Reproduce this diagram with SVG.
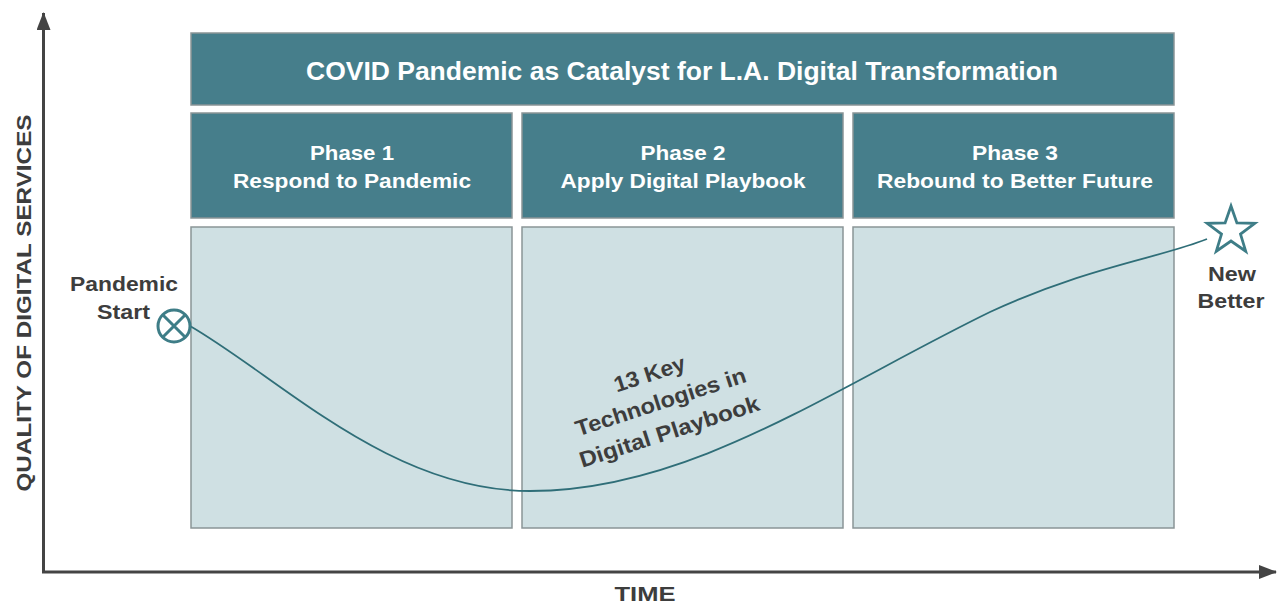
<svg xmlns="http://www.w3.org/2000/svg" width="1278" height="605" viewBox="0 0 1278 605">
<style>
.dark{fill:#467e8b;stroke:#8a9597;stroke-width:1.5}
.light{fill:#cfe0e3;stroke:#8a9597;stroke-width:1.5}
.wt{font-family:"Liberation Sans",Arial,sans-serif;font-weight:bold;fill:#ffffff;text-anchor:middle}
.lbl{font-family:"Liberation Sans",Arial,sans-serif;font-weight:bold;fill:#3d3d3d}
.axis{stroke:#444;stroke-width:3;fill:none}
.teal{stroke:#2f6e78;fill:none}
</style>
<defs>
<marker id="ah2" viewBox="0 0 18 14" refX="17" refY="7" markerWidth="18" markerHeight="14" markerUnits="userSpaceOnUse" orient="auto">
<path d="M0,0 L18,7 L0,14 z" fill="#444"/>
</marker>
</defs>
<g id="axes">
<path class="axis" d="M43.5,572 L43.5,13" marker-end="url(#ah2)"/>
<path class="axis" d="M42,572 L1276,572" marker-end="url(#ah2)"/>
<text class="lbl" font-size="21" text-anchor="middle" textLength="377" lengthAdjust="spacingAndGlyphs" transform="translate(31,303) rotate(-90)">QUALITY OF DIGITAL SERVICES</text>
<text class="lbl" font-size="21" text-anchor="middle" x="645" y="601" textLength="61" lengthAdjust="spacingAndGlyphs">TIME</text>
</g>
<g id="title">
<rect class="dark" x="191" y="33" width="983" height="72"/>
<text class="wt" x="682" y="80" font-size="25" textLength="752" lengthAdjust="spacingAndGlyphs">COVID Pandemic as Catalyst for L.A. Digital Transformation</text>
</g>
<g id="phase1">
<rect class="dark" x="191" y="113" width="321" height="105"/>
<text class="wt" x="352" y="160" font-size="21" textLength="84" lengthAdjust="spacingAndGlyphs">Phase 1</text>
<text class="wt" x="352" y="188" font-size="21" textLength="238" lengthAdjust="spacingAndGlyphs">Respond to Pandemic</text>
<rect class="light" x="191" y="227" width="321" height="301"/>
</g>
<g id="phase2">
<rect class="dark" x="522" y="113" width="321" height="105"/>
<text class="wt" x="683" y="160" font-size="21" textLength="85" lengthAdjust="spacingAndGlyphs">Phase 2</text>
<text class="wt" x="683" y="188" font-size="21" textLength="245" lengthAdjust="spacingAndGlyphs">Apply Digital Playbook</text>
<rect class="light" x="522" y="227" width="321" height="301"/>
</g>
<g id="phase3">
<rect class="dark" x="853" y="113" width="321" height="105"/>
<text class="wt" x="1015" y="160" font-size="21" textLength="86" lengthAdjust="spacingAndGlyphs">Phase 3</text>
<text class="wt" x="1015" y="188" font-size="21" textLength="276" lengthAdjust="spacingAndGlyphs">Rebound to Better Future</text>
<rect class="light" x="853" y="227" width="321" height="301"/>
</g>
<g id="connectors">
<path class="teal" stroke-width="1.8" d="M190,326 C280,378 390,491 530,491 C690,491 830,390 990,312 C1090,266 1160,258 1207,239"/>
</g>
<g id="start">
<circle cx="174" cy="326" r="16" fill="#ffffff" stroke="#3e7d87" stroke-width="3"/>
<path d="M162.7,314.7 L185.3,337.3 M185.3,314.7 L162.7,337.3" stroke="#3e7d87" stroke-width="3"/>
<text class="lbl" font-size="20" text-anchor="end" x="178" y="291" textLength="108" lengthAdjust="spacingAndGlyphs">Pandemic</text>
<text class="lbl" font-size="20" text-anchor="end" x="150" y="319" textLength="53" lengthAdjust="spacingAndGlyphs">Start</text>
</g>
<g id="end">
<polygon points="1231,206 1236.9,222.9 1254.8,223.3 1240.5,234.1 1245.7,251.2 1231,241 1216.3,251.2 1221.5,234.1 1207.2,223.3 1225.1,222.9" fill="#ffffff" stroke="#3e7d87" stroke-width="2.8" stroke-linejoin="miter"/>
<text class="lbl" font-size="20" text-anchor="middle" x="1232" y="281" textLength="48" lengthAdjust="spacingAndGlyphs">New</text>
<text class="lbl" font-size="20" text-anchor="middle" x="1231" y="308" textLength="67" lengthAdjust="spacingAndGlyphs">Better</text>
</g>
<g id="note" transform="translate(663,409) rotate(-18)">
<text class="lbl" font-size="22" text-anchor="middle" x="-2" y="-30" textLength="74" lengthAdjust="spacingAndGlyphs">13 Key</text>
<text class="lbl" font-size="22" text-anchor="middle" x="0" y="0" textLength="178" lengthAdjust="spacingAndGlyphs">Technologies in</text>
<text class="lbl" font-size="22" text-anchor="middle" x="-1" y="31" textLength="188" lengthAdjust="spacingAndGlyphs">Digital Playbook</text>
</g>
</svg>
